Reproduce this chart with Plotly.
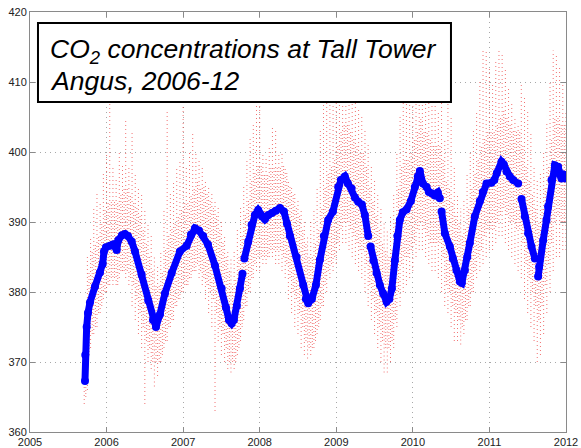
import plotly.graph_objects as go

# ---------------- data ----------------
# Smoothed CO2 (blue), decimal year / ppm ; None = gap in the record
blue_year = [2005.718, 2005.722, 2005.740, 2005.757, 2005.783, 2005.849, 2005.914, 2005.949,
             2005.966, 2005.992, 2006.044, 2006.084, 2006.132, 2006.153, 2006.201, 2006.240,
             2006.279, 2006.328, 2006.371, 2006.458, 2006.544, 2006.606, 2006.645, 2006.697,
             2006.762, 2006.850, 2006.958, 2007.046, 2007.102, 2007.154, 2007.206, 2007.262,
             2007.324, 2007.415, 2007.503, 2007.559, 2007.598, 2007.633, 2007.663, 2007.702,
             2007.742, 2007.775, 2007.788,
             2007.800, 2007.850, 2007.894, 2007.937, 2007.980, 2008.029, 2008.068, 2008.114,
             2008.159, 2008.211, 2008.264, 2008.316, 2008.355, 2008.394, 2008.482, 2008.568,
             2008.603, 2008.633, 2008.681, 2008.734, 2008.786, 2008.838, 2008.894, 2008.956,
             2009.025, 2009.060, 2009.112, 2009.151, 2009.200, 2009.243, 2009.286, 2009.334,
             2009.373, 2009.417, 2009.432,
             2009.448, 2009.484, 2009.526, 2009.569, 2009.612, 2009.657, 2009.693, 2009.726,
             2009.765, 2009.798, 2009.830, 2009.869, 2009.918, 2009.974, 2010.026, 2010.065,
             2010.091, 2010.131, 2010.179, 2010.209, 2010.244, 2010.287, 2010.326, 2010.352,
             2010.363,
             2010.375, 2010.418, 2010.483, 2010.522, 2010.570, 2010.614, 2010.640, 2010.679,
             2010.711, 2010.744, 2010.809, 2010.875, 2010.914, 2010.962, 2011.027, 2011.064,
             2011.097, 2011.158, 2011.188, 2011.223, 2011.266, 2011.310, 2011.375, 2011.397,
             2011.419, 2011.462, 2011.505, 2011.549, 2011.593, 2011.615,
             2011.636, 2011.649, 2011.702, 2011.745, 2011.766, 2011.811, 2011.854, 2011.897,
             2011.919, 2011.941, 2011.964, 2011.984, 2011.997]
blue_ppm = [367.3, 371.0, 375.0, 377.0, 378.5, 380.8, 382.8, 384.0,
            385.8, 386.4, 386.6, 386.8, 386.0, 387.4, 388.1, 388.3,
            388.0, 387.2, 385.8, 382.5, 378.8, 376.0, 375.0, 376.8,
            379.8, 382.7, 385.8, 386.6, 388.2, 389.1, 388.8, 388.0,
            386.8, 383.8, 380.5, 377.8, 376.0, 375.5, 376.0, 378.0,
            380.5, 382.6, None,
            384.8, 387.2, 389.6, 391.0, 391.7, 390.8, 390.4, 391.0,
            391.3, 391.6, 392.0, 391.5, 389.8, 388.0, 385.0, 381.0,
            379.0, 378.4, 379.0, 381.0, 384.6, 388.0, 390.3, 391.5,
            395.0, 396.0, 396.5, 395.5, 394.8, 393.5, 392.9, 392.5,
            391.0, 388.0, None,
            386.5, 384.5, 382.7, 381.0, 379.8, 378.6, 379.0, 380.5,
            384.5, 388.0, 390.3, 391.4, 391.8, 393.0, 395.0, 396.5,
            397.3, 395.5, 395.0, 394.3, 394.1, 393.8, 394.2, 393.4,
            None,
            391.5, 388.4, 386.5, 384.8, 383.1, 381.5, 381.3, 383.1,
            385.0, 387.0, 390.8, 393.0, 394.3, 395.5, 395.6, 396.0,
            397.0, 398.6, 398.2, 397.2, 396.5, 396.0, 395.5, None,
            393.3, 390.8, 388.4, 386.5, 384.8, None,
            382.2, 383.6, 387.4, 390.3, 392.2, 396.0, 398.1, 397.9,
            396.8, 396.2, 396.8, 396.7, 396.2]

# Hourly observations (red), half-monthly: full extent of the scatter (spikes) ...
red_start = 2005.708
red_step = 1 / 24
red_high = [372, 385, 388, 392, 394, 393, 397, 400, 407, 398, 396, 400, 398, 404.5, 398, 403,
            397, 395, 394, 392, 390, 388, 385, 384, 386, 392, 406, 394, 396, 398, 399, 406.5,
            398, 400, 403, 400, 399, 398, 396, 395, 394, 393, 392, 390, 388, 386, 385, 386,
            389, 392, 395, 399, 402, 404, 408, 407, 400, 399, 401, 403.5, 403, 400, 400, 398,
            396, 395, 394, 393, 392, 390, 388, 390, 392, 395, 403, 408, 409, 410, 410, 410,
            410, 410, 410, 409, 408, 407, 406, 405, 403, 401, 398, 396, 394, 392, 390, 389,
            391, 394, 400, 405, 408, 410, 410, 410, 410, 410, 410, 410, 409, 408, 407, 406,
            410, 402, 410.5, 405, 398, 394, 392, 393, 397, 400, 403, 406, 410, 414.5, 414.5, 412,
            410, 413, 414.5, 414, 412, 409, 407, 405, 404, 410, 408, 406, 403, 398, 396, 397,
            400, 404, 410, 414.5, 414, 412, 410, 406]
red_low = [364, 366, 372, 374, 375, 377, 379, 380, 381, 381, 381, 382, 383, 382, 381, 378,
           376, 374, 372, 364, 370, 369, 366.5, 368, 370, 372, 373, 375, 376, 378, 379, 380,
           381, 382, 383, 383, 382, 381, 379, 377, 375, 363, 373, 371, 370, 369, 368.5, 369,
           371, 373, 376, 378, 380, 382, 383, 383, 384, 384, 385, 385, 384, 384, 383, 382,
           379, 377, 375, 374, 372, 371, 370.5, 371, 372, 374, 376, 378, 380, 382, 383, 384,
           386, 387, 387, 386, 385, 384, 383, 382, 380, 378, 376, 374, 372, 370, 368.5, 368.5,
           370, 372, 375, 378, 380, 381, 382, 383, 385, 386, 386, 385, 384, 383, 383, 382,
           380, 378, 377, 375, 373, 373, 372.5, 374, 376, 378, 380, 382, 383, 384, 385, 386,
           386, 387, 388, 388, 387, 386, 385, 384, 383, 382, 379, 377, 375, 373, 370, 371,
           374, 377, 380, 383, 385, 385, 386, 386]
# ... and the dense core of the scatter around the smoothed curve
core_high = [371, 383, 386, 387, 388, 390, 392, 393, 393, 393, 393, 394, 395, 395, 394, 393,
             392, 391, 389, 387, 385, 383, 381, 381, 383, 386, 388, 389, 390, 391, 392, 393,
             393, 394, 395, 396, 395, 395, 394, 393, 392, 391, 389, 387, 385, 383, 381, 382,
             385, 388, 391, 393, 396, 397, 398, 398, 397, 397, 398, 398, 398, 398, 398, 397,
             395, 394, 392, 391, 389, 387, 385, 385, 387, 389, 392, 395, 397, 398, 399, 401,
             403, 404, 404, 403, 402, 401, 400, 400, 398, 395, 393, 391, 389, 387, 386, 385,
             386, 390, 395, 398, 399, 399, 400, 402, 403, 405, 403, 403, 402, 401, 401, 401,
             399, 396, 395, 393, 391, 390, 388, 389, 392, 395, 397, 399, 401, 402, 403, 403,
             403, 404, 405, 406, 405, 404, 403, 403, 403, 401, 398, 396, 394, 392, 390, 392,
             395, 398, 402, 405, 405, 404, 404, 403]
core_low = [365, 371, 374, 375, 377, 378, 380, 381, 382, 382, 381, 383, 383, 383, 382, 381,
            379, 377, 375, 373, 372, 370, 370, 370, 371, 373, 375, 376, 378, 379, 380, 381,
            381, 382, 383, 384, 383, 382, 381, 380, 379, 377, 375, 374, 372, 370, 370, 370,
            372, 375, 378, 380, 382, 384, 385, 385, 385, 385, 386, 386, 386, 386, 385, 384,
            382, 380, 379, 377, 375, 373, 372, 372, 373, 375, 378, 381, 383, 384, 385, 387,
            389, 390, 390, 389, 388, 387, 386, 386, 384, 381, 379, 377, 375, 373, 372, 372,
            373, 376, 380, 384, 385, 385, 386, 387, 389, 390, 389, 388, 387, 387, 387, 387,
            385, 381, 380, 378, 377, 376, 375, 376, 378, 380, 383, 385, 386, 388, 389, 389,
            389, 390, 391, 392, 391, 390, 390, 389, 389, 387, 384, 382, 380, 378, 376, 378,
            381, 384, 387, 390, 391, 390, 390, 390]

x_ticks = [2005, 2006, 2007, 2008, 2009, 2010, 2011, 2012]
y_ticks = [360, 370, 380, 390, 400, 410, 420]
title_line1 = "<i>CO<sub>2</sub> concentrations at Tall Tower</i>"
title_line2 = "<i>Angus, 2006-12</i>"


def streaks(highs, lows, offset):
    xs, ys = [], []
    for k, (hi, lo) in enumerate(zip(highs, lows)):
        t = red_start + k * red_step + offset
        xs += [t, t, None]
        ys += [lo, hi, None]
    return xs, ys


fig = go.Figure()
sx, sy = streaks(red_high, red_low, 0.0)
fig.add_trace(go.Scatter(
    x=sx, y=sy, mode="lines", connectgaps=False,
    line=dict(color="rgba(235,40,40,0.65)", width=1, dash="1px,3px"),
    hoverinfo="skip", showlegend=False))
cx, cy = streaks(core_high, core_low, red_step / 2)
fig.add_trace(go.Scatter(
    x=cx, y=cy, mode="lines", connectgaps=False,
    line=dict(color="rgba(235,40,40,0.6)", width=1, dash="1px,2px"),
    hoverinfo="skip", showlegend=False))
fig.add_trace(go.Scatter(
    x=blue_year, y=blue_ppm, mode="lines+markers", connectgaps=False,
    line=dict(color="#0000ff", width=7),
    marker=dict(color="#0000ff", size=8),
    showlegend=False))

axis_common = dict(
    showline=True, linecolor="#8a8a8a", linewidth=1, mirror="ticks",
    ticks="inside", ticklen=5, tickcolor="#8a8a8a",
    showgrid=True, gridcolor="#a8a8a8", griddash="1px,4px", gridwidth=1,
    zeroline=False, automargin=False,
    tickfont=dict(family="Arial, Liberation Sans, sans-serif", size=11, color="#222"),
)
fig.update_xaxes(range=[2005, 2012], tickvals=x_ticks, ticktext=[str(v) for v in x_ticks],
                 **axis_common)
fig.update_yaxes(range=[360, 420], tickvals=y_ticks, ticktext=[str(v) for v in y_ticks],
                 **axis_common)

# title box (white rectangle with black frame) drawn over the data
fig.add_shape(type="rect", xref="paper", yref="paper",
              x0=0.0149, x1=0.7854, y0=0.7857, y1=0.9738,
              line=dict(color="black", width=2), fillcolor="white", layer="above")
title_font = dict(family="Arial, Liberation Sans, sans-serif", size=26.5, color="black")
fig.add_annotation(xref="paper", yref="paper", x=0.034, y=0.907, xanchor="left",
                   yanchor="middle", text=title_line1, showarrow=False, font=title_font)
fig.add_annotation(xref="paper", yref="paper", x=0.034, y=0.836, xanchor="left",
                   yanchor="middle", text=title_line2, showarrow=False, font=title_font)

fig.update_layout(
    width=581, height=448,
    margin=dict(l=30, r=15, t=12, b=16),
    paper_bgcolor="white", plot_bgcolor="white",
)

fig.write_html("out.html", config={"displayModeBar": False},
               post_script="document.body.style.margin='0';")
